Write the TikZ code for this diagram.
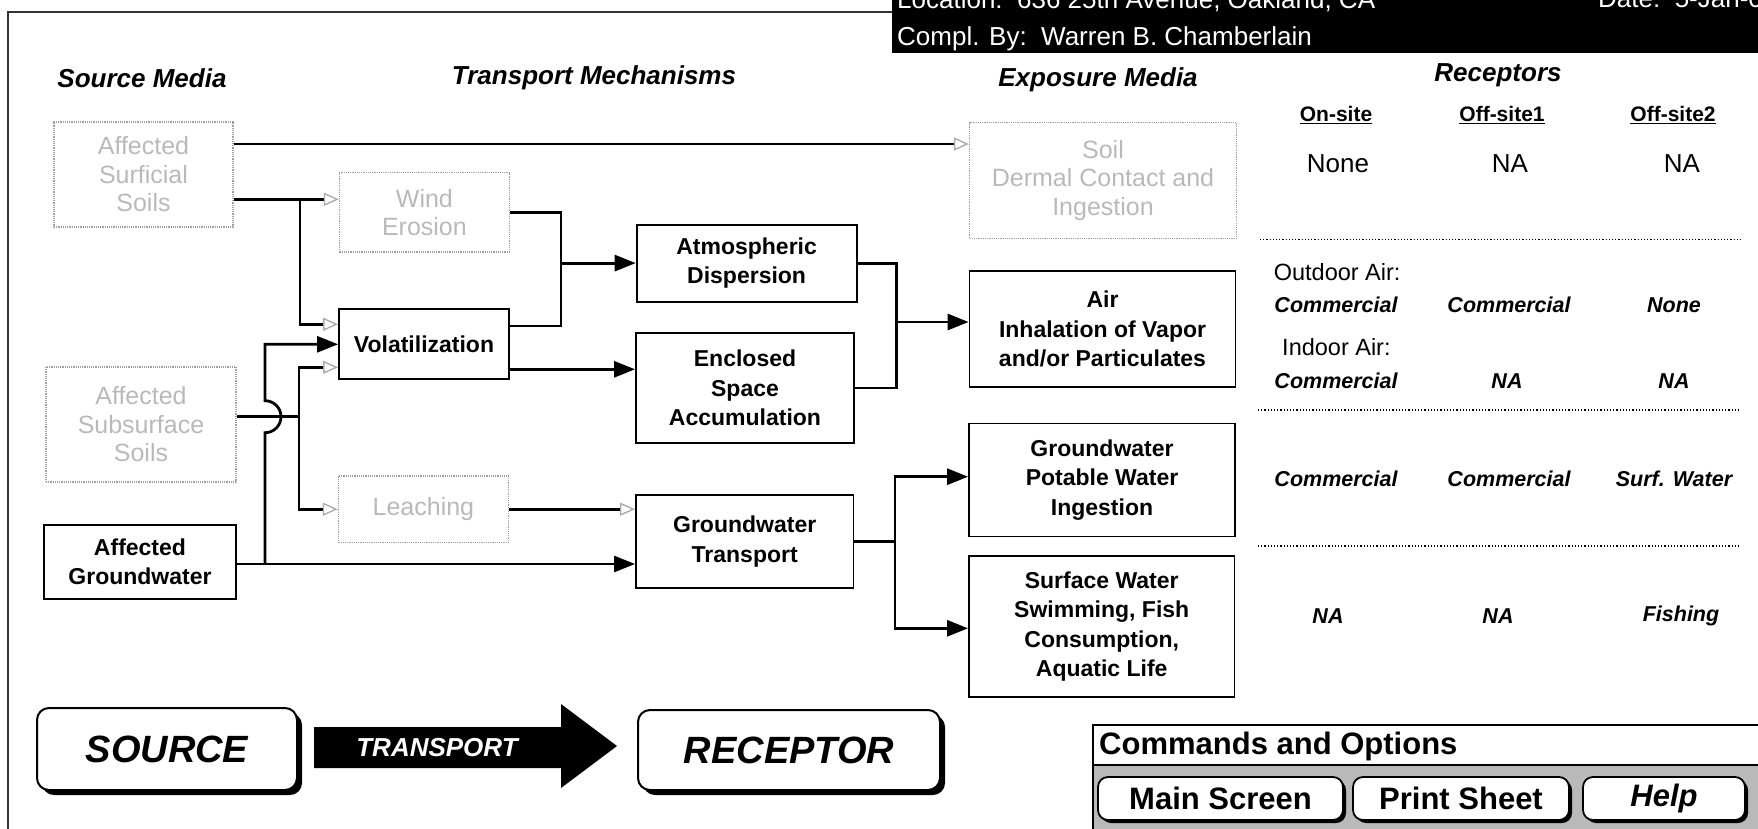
\documentclass[tikz,border=0pt]{standalone}
\usepackage{fontspec}
\setmainfont{Liberation Sans}
\usetikzlibrary{arrows.meta}
\newcommand\bxf{\fontsize{23}{29.5}\selectfont\bfseries}
\newcommand\grf{\fontsize{25}{28.5}\selectfont}
\newcommand\hdf{\fontsize{26}{30}\selectfont\bfseries\itshape}
\newcommand\ulf{\fontsize{21}{25}\selectfont\bfseries}
\newcommand\vlf{\fontsize{26}{30}\selectfont}
\newcommand\lbf{\fontsize{23.5}{28}\selectfont}
\newcommand\rcf{\fontsize{21.5}{25}\selectfont\bfseries\itshape}
\newcommand\bigf{\fontsize{38}{42}\selectfont\bfseries\itshape}
\newcommand\cmdf{\fontsize{31}{36}\selectfont\bfseries}
\newcommand\wtf{\fontsize{26}{30}\selectfont}
\newcommand\trf{\fontsize{26}{30}\selectfont\bfseries\itshape}
\begin{document}
\begin{tikzpicture}[x=1pt,y=-1pt,
  bbox/.style={draw,line width=1.8pt,align=center,font=\bxf,inner sep=0pt},
  gbox/.style={draw=gray!75,densely dotted,line width=1.2pt,align=center,font=\grf,text=gray!55,inner sep=0pt},
  conn/.style={line width=2.8pt},
  barrow/.style={-{Triangle[length=21pt,width=16pt]}},
  garrow/.style={-{Triangle[open,length=15pt,width=13pt,line width=1.4pt,color=gray!65]}},
  sepline/.style={dotted,line width=1.2pt},
  txt/.style={inner sep=0pt},
  btn/.style={draw,line width=1.8pt,fill=white,rounded corners=10pt,inner sep=0pt,font=\cmdf},
]
\useasboundingbox (0,0) rectangle (1758,829);
\clip (0,0) rectangle (1758,829);

% frame
\draw[line width=1.2pt,black!80] (8,829) -- (8,12) -- (892,12);

% header
\fill (892,0) rectangle (1758,53.3);
\node[txt,anchor=base west,text=white,font=\wtf] (loc) at (897,8.5) {Location:\ \ 636 25th Avenue, Oakland, CA};
\node[txt,anchor=base west,text=white,font=\wtf] (date) at (1598,8) {Date:\ \ 5-Jan-0};
\node[txt,anchor=base west,text=white,font=\wtf] (compl) at (897,46) {Compl. By:\ \ Warren B. Chamberlain};

% column headers
\node[txt,font=\hdf] (h1) at (142,78) {Source Media};
\node[txt,font=\hdf] (h2) at (594,78) {Transport Mechanisms};
\node[txt,font=\hdf] (h3) at (1098,80) {Exposure Media};
\node[txt,font=\hdf] (h4) at (1498,75) {Receptors};
\node[txt,font=\ulf] (c1) at (1336,115) {\underline{On-site}};
\node[txt,font=\ulf] (c2) at (1502,115) {\underline{Off-site1}};
\node[txt,font=\ulf] (c3) at (1673,115) {\underline{Off-site2}};

% source media
\node[gbox,minimum width=179pt,minimum height=105pt] (surf) at (143.5,174.5) {Affected\\Surficial\\Soils};
\node[gbox,minimum width=190pt,minimum height=115pt] (subs) at (141,424.5) {Affected\\Subsurface\\Soils};
\node[bbox,minimum width=192pt,minimum height=74pt] (gw) at (140,562) {Affected\\Groundwater};

% transport mechanisms
\node[gbox,minimum width=170pt,minimum height=79pt] (wind) at (424.4,212.4) {Wind\\Erosion};
\node[bbox,minimum width=170pt,minimum height=70pt] (vol) at (424,344.3) {Volatilization};
\node[gbox,minimum width=170pt,minimum height=66.5pt] (leach) at (423.4,509.2) {Leaching};
\node[bbox,minimum width=220pt,minimum height=77pt] (atm) at (746.6,263.1) {Atmospheric\\Dispersion};
\node[bbox,minimum width=218pt,minimum height=110pt] (encl) at (745,387.9) {Enclosed\\Space\\Accumulation};
\node[bbox,minimum width=217.5pt,minimum height=93pt] (gwt) at (744.7,541.7) {Groundwater\\Transport};

% exposure media
\node[gbox,minimum width=267pt,minimum height=115.6pt] (soil) at (1103,180.5) {Soil\\Dermal Contact and\\Ingestion};
\node[bbox,minimum width=266pt,minimum height=116pt] (air) at (1102.5,329) {Air\\Inhalation of Vapor\\and/or Particulates};
\node[bbox,minimum width=266pt,minimum height=113pt] (gwp) at (1102,480) {Groundwater\\Potable Water\\Ingestion};
\node[bbox,minimum width=265.5pt,minimum height=141.3pt] (sw) at (1101.7,626.6) {Surface Water\\Swimming, Fish\\Consumption,\\Aquatic Life};

% junctions
\coordinate (j1) at (300,199.3);
\coordinate (j2) at (299,416.7);
\coordinate (j3) at (265,564);
\coordinate (hopb) at (265,432.7);
\coordinate (j4) at (561,263.1);
\coordinate (j6) at (896.7,322);
\coordinate (j7) at (895,541.7);

% connectors
\draw[conn,garrow] ([yshift=30.5pt]surf.east) -- ([yshift=30.5pt]surf.east -| soil.west);
\draw[conn,garrow] ([yshift=-24.8pt]surf.east) -- ([yshift=-24.8pt]surf.east -| wind.west);
\draw[conn,garrow] (j1) |- ([yshift=20pt]vol.west);
\draw[conn] ([yshift=7.8pt]subs.east) -- (j2);
\draw[conn,garrow] (j2) |- ([yshift=-23pt]vol.west);
\draw[conn,garrow] (j2) |- (leach.west);
\draw[conn,barrow] ([yshift=-2pt]gw.east) -- ([yshift=-2pt]gw.east -| gwt.west);
\draw[conn,barrow] (j3) -- (hopb) arc[start angle=-90,end angle=90,radius=16pt] |- (vol.west);
\draw[conn] (wind.east) -| (j4);
\draw[conn] ([yshift=18.3pt]vol.east) -| (j4);
\draw[conn,barrow] (j4) -- (atm.west);
\draw[conn,barrow] ([yshift=-25pt]vol.east) -- ([yshift=-25pt]vol.east -| encl.west);
\draw[conn,garrow] (leach.east) -- (leach.east -| gwt.west);
\draw[conn] (atm.east) -| (j6);
\draw[conn] (encl.east) -| (j6);
\draw[conn,barrow] (j6) -- (j6 -| air.west);
\draw[conn] (gwt.east) -- (j7);
\draw[conn,barrow] (j7) |- ([yshift=3.3pt]gwp.west);
\draw[conn,barrow] (j7) |- ([yshift=-1.7pt]sw.west);

% receptors
\node[txt,font=\vlf] (r1a) at (1338,163.3) {None};
\node[txt,font=\vlf] (r1b) at (1510,163.3) {NA};
\node[txt,font=\vlf] (r1c) at (1682,163.3) {NA};
\draw[sepline] (1260,239.3) -- (1742,239.3);
\node[txt,font=\lbf,anchor=west] (oa) at (1273.6,271.7) {Outdoor Air:};
\node[txt,font=\rcf] (r2a) at (1336,305) {Commercial};
\node[txt,font=\rcf] (r2b) at (1509,305) {Commercial};
\node[txt,font=\rcf] (r2c) at (1674,305) {None};
\node[txt,font=\lbf,anchor=west] (ia) at (1282,346.7) {Indoor Air:};
\node[txt,font=\rcf] (r3a) at (1336,380.7) {Commercial};
\node[txt,font=\rcf] (r3b) at (1507,380.7) {NA};
\node[txt,font=\rcf] (r3c) at (1674,380.7) {NA};
\draw[sepline] (1258,410) -- (1740,410);
\node[txt,font=\rcf] (r4a) at (1336,479.3) {Commercial};
\node[txt,font=\rcf] (r4b) at (1509,479.3) {Commercial};
\node[txt,font=\rcf] (r4c) at (1674,479.3) {Surf. Water};
\draw[sepline] (1258,546) -- (1740,546);
\node[txt,font=\rcf] (r5a) at (1328,616) {NA};
\node[txt,font=\rcf] (r5b) at (1498,616) {NA};
\node[txt,font=\rcf] (r5c) at (1681,616) {Fishing};

% source - transport - receptor
\fill[rounded corners=12pt] (42,713) rectangle (302,795);
\node[draw,line width=2pt,fill=white,rounded corners=12pt,minimum width=260pt,minimum height=82pt,inner sep=0pt,font=\bigf] (src) at (167,749) {SOURCE};
\fill (314,727) -- (561,727) -- (561,704) -- (617,746) -- (561,788) -- (561,768) -- (314,768) -- cycle;
\node[txt,text=white,font=\trf] (trn) at (437,748) {TRANSPORT};
\fill[rounded corners=12pt] (643,715) rectangle (945,795);
\node[draw,line width=2pt,fill=white,rounded corners=12pt,minimum width=302pt,minimum height=80pt,inner sep=0pt,font=\bigf] (rcp) at (789,750) {RECEPTOR};

% commands
\fill[gray!55] (1093,765) rectangle (1770,835);
\draw[line width=1.2pt,fill=white] (1093,725) rectangle (1770,765);
\draw[line width=1.2pt] (1093,765) -- (1093,835);
\node[txt,anchor=west,font=\cmdf] (cmd) at (1099,746) {Commands and Options};
\fill[rounded corners=10pt] (1101,780) rectangle (1346,823);
\node[btn,minimum width=245pt,minimum height=43pt] (b1) at (1220.5,798.5) {Main Screen};
\fill[rounded corners=10pt] (1356,780) rectangle (1572,823);
\node[btn,minimum width=216pt,minimum height=43pt] (b2) at (1461,798.5) {Print Sheet};
\fill[rounded corners=10pt] (1586,780) rectangle (1748,823);
\node[btn,minimum width=162pt,minimum height=43pt,font=\cmdf\itshape] (b3) at (1664,798.5) {Help};
\end{tikzpicture}
\end{document}
